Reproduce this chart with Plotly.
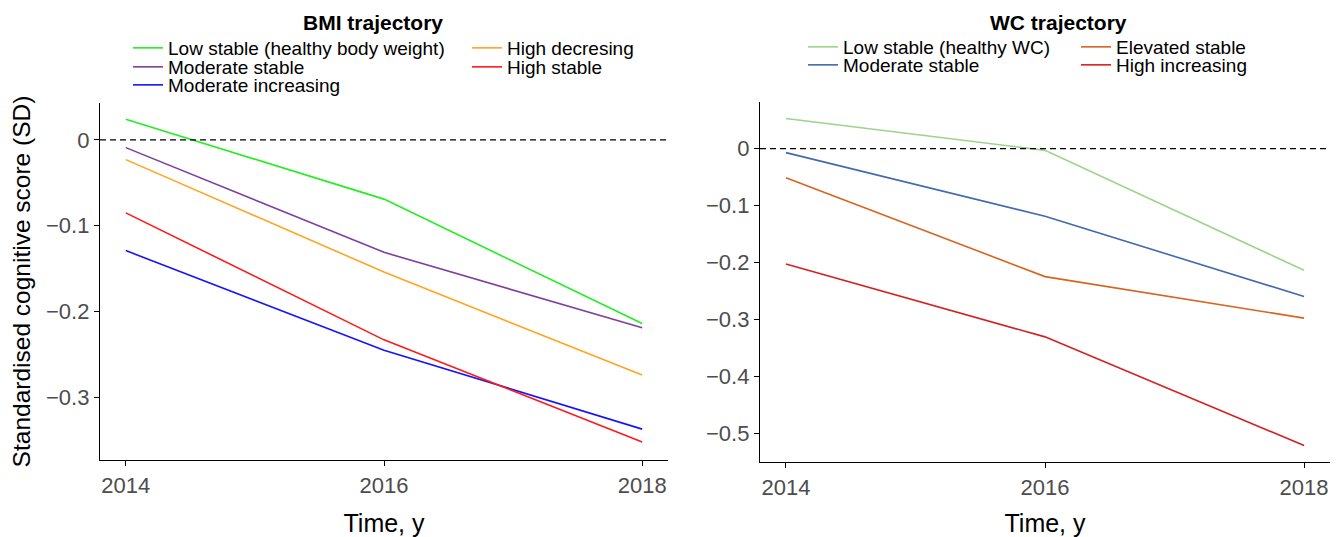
import plotly.graph_objects as go
from plotly.subplots import make_subplots

years = [2014, 2016, 2018]

bmi_names = ["Low stable (healthy body weight)", "Moderate stable", "Moderate increasing",
             "High decresing", "High stable"]
bmi_low_stable = [0.024, -0.069, -0.214]
bmi_moderate_stable = [-0.009, -0.131, -0.219]
bmi_moderate_increasing = [-0.129, -0.245, -0.337]
bmi_high_decreasing = [-0.023, -0.154, -0.274]
bmi_high_stable = [-0.085, -0.233, -0.352]
bmi_colors = ["#22EE22", "#7E3F9E", "#1414FF", "#FFA51F", "#FF1A1A"]

wc_names = ["Low stable (healthy WC)", "Moderate stable", "Elevated stable", "High increasing"]
wc_low_stable = [0.053, -0.003, -0.214]
wc_moderate_stable = [-0.007, -0.119, -0.260]
wc_elevated_stable = [-0.051, -0.225, -0.298]
wc_high_increasing = [-0.203, -0.331, -0.522]
wc_colors = ["#9CD48A", "#4169B0", "#D9641E", "#D42020"]

bmi_series = [bmi_low_stable, bmi_moderate_stable, bmi_moderate_increasing,
              bmi_high_decreasing, bmi_high_stable]
wc_series = [wc_low_stable, wc_moderate_stable, wc_elevated_stable, wc_high_increasing]

# page has an 8px body margin: compensate so that the figure lands on the reference pixels
OFF = 8
W, H = 1341 - OFF, 537 - OFF
FONT = "Liberation Sans, Arial, sans-serif"


def px(x):
    return (x - OFF) / W


def py(y):
    return 1 - (y - OFF) / H


fig = make_subplots(rows=1, cols=2)

bmi_leg_pos = [(128, 48), (128, 67), (128, 85), (467, 48), (467, 67)]
wc_leg_pos = [(803, 47), (803, 65), (1076, 47), (1076, 65)]
LEG_FONT = dict(family=FONT, size=19, color="black")

legend_layouts = {}
k = 0
for name, vals, col, pos in zip(bmi_names, bmi_series, bmi_colors, bmi_leg_pos):
    k += 1
    lname = "legend" if k == 1 else f"legend{k}"
    fig.add_trace(go.Scatter(x=years, y=vals, mode="lines", name=name,
                             line=dict(color=col, width=1.6), legend=lname), row=1, col=1)
    legend_layouts[lname] = dict(x=px(pos[0]), y=py(pos[1]), xanchor="left", yanchor="middle",
                                 bgcolor="rgba(0,0,0,0)", borderwidth=0, font=LEG_FONT)
for name, vals, col, pos in zip(wc_names, wc_series, wc_colors, wc_leg_pos):
    k += 1
    lname = f"legend{k}"
    fig.add_trace(go.Scatter(x=years, y=vals, mode="lines", name=name,
                             line=dict(color=col, width=1.6), legend=lname), row=1, col=2)
    legend_layouts[lname] = dict(x=px(pos[0]), y=py(pos[1]), xanchor="left", yanchor="middle",
                                 bgcolor="rgba(0,0,0,0)", borderwidth=0, font=LEG_FONT)

fig.add_hline(y=0, line=dict(color="black", width=1.3, dash="6px,4px"), row=1, col=1)
fig.add_hline(y=0, line=dict(color="black", width=1.3, dash="6px,4px"), row=1, col=2)

axis_common = dict(showline=True, linecolor="black", linewidth=1.3, ticks="outside",
                   ticklen=5, tickwidth=1.3, tickcolor="black", showgrid=False, zeroline=False,
                   tickfont=dict(family=FONT, size=22, color="#4D4D4D"))

fig.update_xaxes(**axis_common, range=[2013.8, 2018.2], tickvals=years,
                 ticktext=[str(y) for y in years],
                 title=dict(text="Time, y", font=dict(family=FONT, size=25, color="black"), standoff=19))
fig.update_xaxes(domain=[px(100), px(668)], row=1, col=1)
fig.update_xaxes(domain=[px(760), px(1330)], row=1, col=2)

fig.update_yaxes(**axis_common)
fig.update_yaxes(domain=[py(460), py(103)], range=[-0.373, 0.043],
                 tickvals=[0, -0.1, -0.2, -0.3], ticktext=["0", "\u22120.1", "\u22120.2", "\u22120.3"],
                 title=dict(text="Standardised cognitive score (SD)",
                            font=dict(family=FONT, size=24.5, color="black"), standoff=9),
                 row=1, col=1)
fig.update_yaxes(domain=[py(462), py(102)], range=[-0.551, 0.082],
                 tickvals=[0, -0.1, -0.2, -0.3, -0.4, -0.5],
                 ticktext=["0", "\u22120.1", "\u22120.2", "\u22120.3", "\u22120.4", "\u22120.5"],
                 row=1, col=2)

fig.add_annotation(text="<b>BMI trajectory</b>", x=px(373), y=py(22), xref="paper", yref="paper",
                   showarrow=False, font=dict(family=FONT, size=21, color="black"),
                   xanchor="center", yanchor="middle")
fig.add_annotation(text="<b>WC trajectory</b>", x=px(1058), y=py(22), xref="paper", yref="paper",
                   showarrow=False, font=dict(family=FONT, size=21, color="black"),
                   xanchor="center", yanchor="middle")

fig.update_layout(width=W, height=H, margin=dict(l=0, r=0, t=0, b=0),
                  paper_bgcolor="white", plot_bgcolor="white", showlegend=True,
                  font=dict(family=FONT), **legend_layouts)

fig.write_html("out.html")
